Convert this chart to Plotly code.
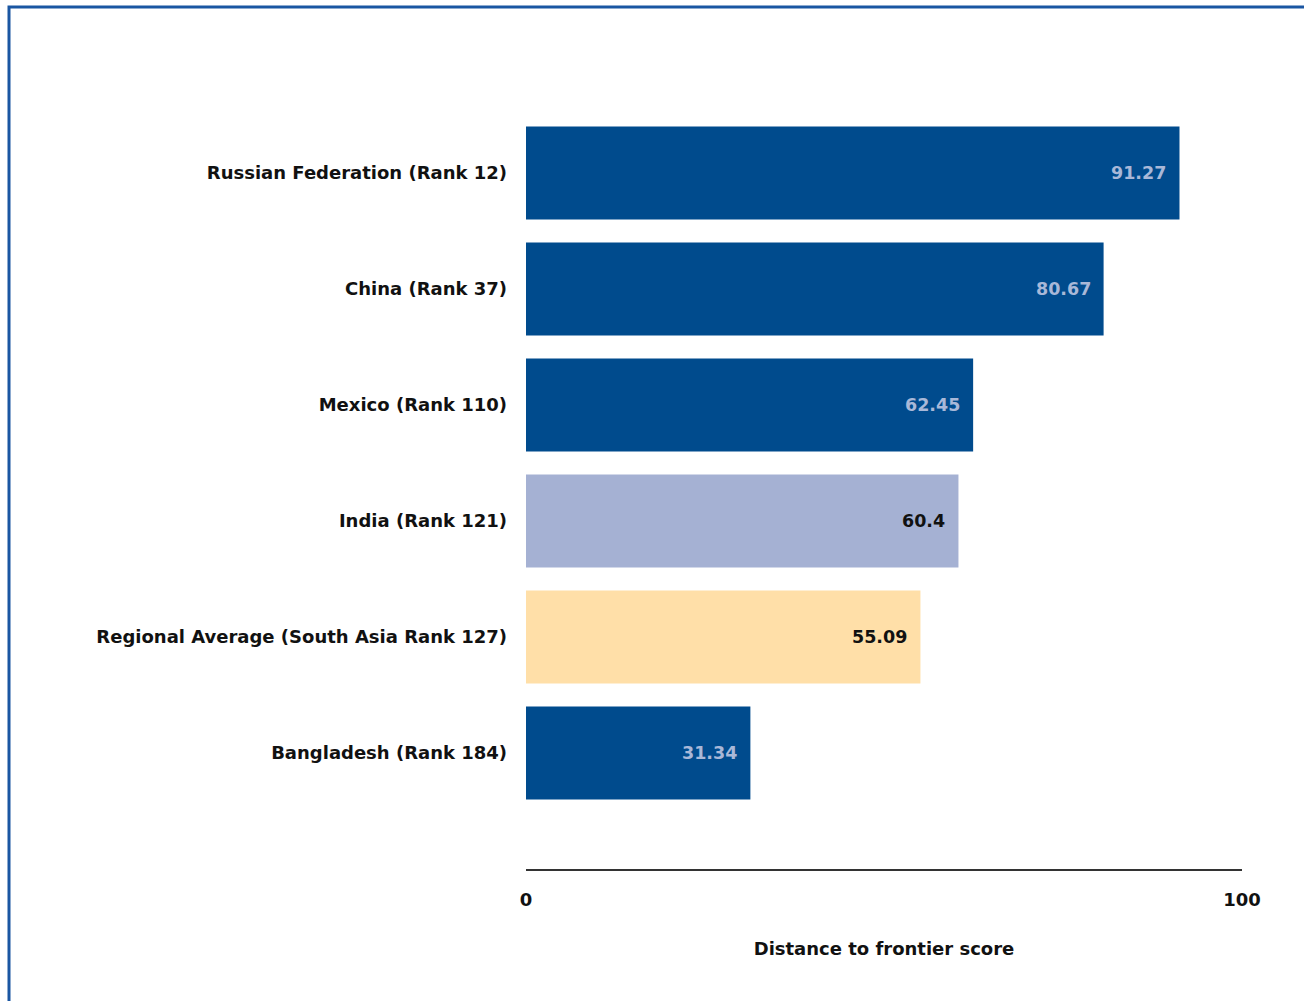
import plotly.graph_objects as go

# Distance to frontier scores, bottom-to-top order on the axis
categories = [
    "Bangladesh (Rank 184)",
    "Regional Average (South Asia Rank 127)",
    "India (Rank 121)",
    "Mexico (Rank 110)",
    "China (Rank 37)",
    "Russian Federation (Rank 12)",
]
scores = [31.34, 55.09, 60.4, 62.45, 80.67, 91.27]
score_labels = ["31.34", "55.09", "60.4", "62.45", "80.67", "91.27"]
x_tick_values = [0, 100]
x_tick_labels = ["0", "100"]

DARK = "#004B8D"
bar_colors = [DARK, "#FFDFA8", "#A5B1D3", DARK, DARK, DARK]
label_colors = ["#A9B8D8", "#111111", "#111111", "#A9B8D8", "#A9B8D8", "#A9B8D8"]

FONT = "DejaVu Sans"
FS = 18
W, H = 1304, 1001
L, R, T, B = 526, 62, 115, 132

fig = go.Figure(
    go.Bar(
        x=scores,
        y=categories,
        orientation="h",
        marker=dict(color=bar_colors, line=dict(width=0)),
        width=0.8,
        hoverinfo="skip",
    )
)

# value labels just inside the end of each bar
for cat, val, txt, col in zip(categories, scores, score_labels, label_colors):
    fig.add_annotation(
        x=val, y=cat, text=f"<b>{txt}</b>", showarrow=False,
        xanchor="right", xshift=-11,
        font=dict(family=FONT, size=17.5, color=col),
    )

plot_w = W - L - R
plot_h = H - T - B
# outer frame line (top and left visible)
fig.add_shape(
    type="rect", xref="paper", yref="paper",
    x0=(9 - L) / plot_w, x1=(W + 10 - L) / plot_w,
    y0=(H - B - (H + 10)) / plot_h, y1=(H - B - 7) / plot_h,
    line=dict(color="#1A56A2", width=3), layer="below",
)

fig.update_layout(
    width=W, height=H,
    margin=dict(l=L, r=R, t=T, b=B, pad=0),
    paper_bgcolor="white", plot_bgcolor="white",
    showlegend=False,
    font=dict(family=FONT, size=FS, color="#111111"),
    xaxis=dict(
        range=[0, 100], tickvals=x_tick_values, ticktext=[f"<b>{t}</b>" for t in x_tick_labels],
        showgrid=False, zeroline=False, showline=True, linecolor="#333333", linewidth=2,
        ticks="", ticklabelstandoff=13, fixedrange=True,
        title=dict(text="<b>Distance to frontier score</b>", standoff=34,
                   font=dict(family=FONT, size=FS, color="#111111")),
    ),
    yaxis=dict(
        type="category", categoryorder="array", categoryarray=categories,
        range=[-1, 5.5], showgrid=False, zeroline=False, showline=False,
        ticks="", ticklabelstandoff=18, fixedrange=True,
        tickvals=categories, ticktext=[f"<b>{c}</b>" for c in categories],
    ),
)

fig.write_html("out.html")
